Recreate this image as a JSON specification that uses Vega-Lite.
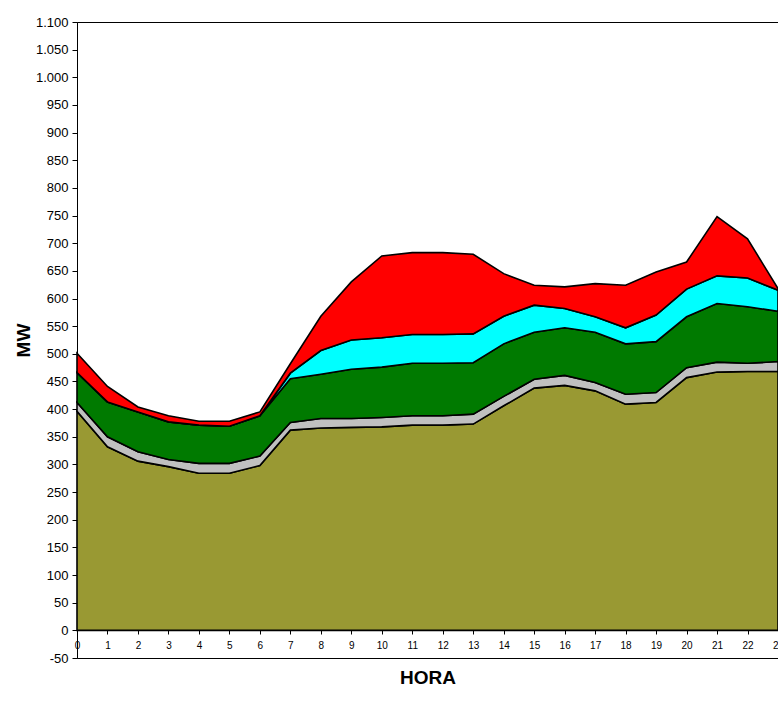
{
  "$schema": "https://vega.github.io/schema/vega-lite/v6.json",
  "width": 701,
  "height": 636,
  "autosize": "none",
  "padding": {"left": 77, "top": 22, "right": 0, "bottom": 43},
  "background": "white",
  "config": {
    "font": "Liberation Sans",
    "view": {"stroke": "black", "strokeWidth": 1}
  },
  "data": {
    "values": [
      {"hora":0,"serie":"A","ord":1,"mw":396},{"hora":0,"serie":"B","ord":2,"mw":16},{"hora":0,"serie":"C","ord":3,"mw":54},{"hora":0,"serie":"D","ord":4,"mw":0},{"hora":0,"serie":"E","ord":5,"mw":35},
      {"hora":1,"serie":"A","ord":1,"mw":332},{"hora":1,"serie":"B","ord":2,"mw":18},{"hora":1,"serie":"C","ord":3,"mw":63},{"hora":1,"serie":"D","ord":4,"mw":0},{"hora":1,"serie":"E","ord":5,"mw":28},
      {"hora":2,"serie":"A","ord":1,"mw":306},{"hora":2,"serie":"B","ord":2,"mw":17},{"hora":2,"serie":"C","ord":3,"mw":72},{"hora":2,"serie":"D","ord":4,"mw":0},{"hora":2,"serie":"E","ord":5,"mw":9},
      {"hora":3,"serie":"A","ord":1,"mw":296},{"hora":3,"serie":"B","ord":2,"mw":13},{"hora":3,"serie":"C","ord":3,"mw":68},{"hora":3,"serie":"D","ord":4,"mw":0},{"hora":3,"serie":"E","ord":5,"mw":11},
      {"hora":4,"serie":"A","ord":1,"mw":284},{"hora":4,"serie":"B","ord":2,"mw":18},{"hora":4,"serie":"C","ord":3,"mw":69},{"hora":4,"serie":"D","ord":4,"mw":0},{"hora":4,"serie":"E","ord":5,"mw":7},
      {"hora":5,"serie":"A","ord":1,"mw":284},{"hora":5,"serie":"B","ord":2,"mw":18},{"hora":5,"serie":"C","ord":3,"mw":67},{"hora":5,"serie":"D","ord":4,"mw":0},{"hora":5,"serie":"E","ord":5,"mw":9},
      {"hora":6,"serie":"A","ord":1,"mw":298},{"hora":6,"serie":"B","ord":2,"mw":17},{"hora":6,"serie":"C","ord":3,"mw":73},{"hora":6,"serie":"D","ord":4,"mw":0},{"hora":6,"serie":"E","ord":5,"mw":7},
      {"hora":7,"serie":"A","ord":1,"mw":362},{"hora":7,"serie":"B","ord":2,"mw":14},{"hora":7,"serie":"C","ord":3,"mw":79},{"hora":7,"serie":"D","ord":4,"mw":10},{"hora":7,"serie":"E","ord":5,"mw":17},
      {"hora":8,"serie":"A","ord":1,"mw":366},{"hora":8,"serie":"B","ord":2,"mw":17},{"hora":8,"serie":"C","ord":3,"mw":80},{"hora":8,"serie":"D","ord":4,"mw":43},{"hora":8,"serie":"E","ord":5,"mw":62},
      {"hora":9,"serie":"A","ord":1,"mw":367},{"hora":9,"serie":"B","ord":2,"mw":16},{"hora":9,"serie":"C","ord":3,"mw":89},{"hora":9,"serie":"D","ord":4,"mw":53},{"hora":9,"serie":"E","ord":5,"mw":105},
      {"hora":10,"serie":"A","ord":1,"mw":368},{"hora":10,"serie":"B","ord":2,"mw":17},{"hora":10,"serie":"C","ord":3,"mw":91},{"hora":10,"serie":"D","ord":4,"mw":53},{"hora":10,"serie":"E","ord":5,"mw":148},
      {"hora":11,"serie":"A","ord":1,"mw":371},{"hora":11,"serie":"B","ord":2,"mw":17},{"hora":11,"serie":"C","ord":3,"mw":95},{"hora":11,"serie":"D","ord":4,"mw":52},{"hora":11,"serie":"E","ord":5,"mw":148},
      {"hora":12,"serie":"A","ord":1,"mw":371},{"hora":12,"serie":"B","ord":2,"mw":17},{"hora":12,"serie":"C","ord":3,"mw":95},{"hora":12,"serie":"D","ord":4,"mw":52},{"hora":12,"serie":"E","ord":5,"mw":148},
      {"hora":13,"serie":"A","ord":1,"mw":373},{"hora":13,"serie":"B","ord":2,"mw":18},{"hora":13,"serie":"C","ord":3,"mw":93},{"hora":13,"serie":"D","ord":4,"mw":52},{"hora":13,"serie":"E","ord":5,"mw":144},
      {"hora":14,"serie":"A","ord":1,"mw":406},{"hora":14,"serie":"B","ord":2,"mw":17},{"hora":14,"serie":"C","ord":3,"mw":95},{"hora":14,"serie":"D","ord":4,"mw":50},{"hora":14,"serie":"E","ord":5,"mw":77},
      {"hora":15,"serie":"A","ord":1,"mw":438},{"hora":15,"serie":"B","ord":2,"mw":16},{"hora":15,"serie":"C","ord":3,"mw":85},{"hora":15,"serie":"D","ord":4,"mw":49},{"hora":15,"serie":"E","ord":5,"mw":36},
      {"hora":16,"serie":"A","ord":1,"mw":443},{"hora":16,"serie":"B","ord":2,"mw":18},{"hora":16,"serie":"C","ord":3,"mw":86},{"hora":16,"serie":"D","ord":4,"mw":35},{"hora":16,"serie":"E","ord":5,"mw":39},
      {"hora":17,"serie":"A","ord":1,"mw":433},{"hora":17,"serie":"B","ord":2,"mw":15},{"hora":17,"serie":"C","ord":3,"mw":91},{"hora":17,"serie":"D","ord":4,"mw":28},{"hora":17,"serie":"E","ord":5,"mw":60},
      {"hora":18,"serie":"A","ord":1,"mw":409},{"hora":18,"serie":"B","ord":2,"mw":18},{"hora":18,"serie":"C","ord":3,"mw":91},{"hora":18,"serie":"D","ord":4,"mw":29},{"hora":18,"serie":"E","ord":5,"mw":77},
      {"hora":19,"serie":"A","ord":1,"mw":412},{"hora":19,"serie":"B","ord":2,"mw":18},{"hora":19,"serie":"C","ord":3,"mw":92},{"hora":19,"serie":"D","ord":4,"mw":48},{"hora":19,"serie":"E","ord":5,"mw":78},
      {"hora":20,"serie":"A","ord":1,"mw":457},{"hora":20,"serie":"B","ord":2,"mw":18},{"hora":20,"serie":"C","ord":3,"mw":92},{"hora":20,"serie":"D","ord":4,"mw":50},{"hora":20,"serie":"E","ord":5,"mw":49},
      {"hora":21,"serie":"A","ord":1,"mw":467},{"hora":21,"serie":"B","ord":2,"mw":18},{"hora":21,"serie":"C","ord":3,"mw":106},{"hora":21,"serie":"D","ord":4,"mw":50},{"hora":21,"serie":"E","ord":5,"mw":107},
      {"hora":22,"serie":"A","ord":1,"mw":468},{"hora":22,"serie":"B","ord":2,"mw":15},{"hora":22,"serie":"C","ord":3,"mw":102},{"hora":22,"serie":"D","ord":4,"mw":52},{"hora":22,"serie":"E","ord":5,"mw":71},
      {"hora":23,"serie":"A","ord":1,"mw":468},{"hora":23,"serie":"B","ord":2,"mw":18},{"hora":23,"serie":"C","ord":3,"mw":91},{"hora":23,"serie":"D","ord":4,"mw":38},{"hora":23,"serie":"E","ord":5,"mw":3}
    ]
  },
  "mark": {"type": "area", "stroke": "black", "strokeWidth": 1.6, "opacity": 1},
  "encoding": {
    "x": {
      "field": "hora", "type": "quantitative",
      "scale": {"domain": [0, 23], "nice": false, "zero": false},
      "axis": {
        "title": "HORA", "titleFontSize": 19, "titleFontWeight": "bold", "titleColor": "black",
        "titlePadding": 18,
        "values": [0,1,2,3,4,5,6,7,8,9,10,11,12,13,14,15,16,17,18,19,20,21,22,23],
        "offset": -28, "grid": false, "domainColor": "black", "domainWidth": 1,
        "tickColor": "black", "tickSize": 4, "labelFontSize": 10, "labelColor": "black",
        "labelPadding": 6, "labelFlush": false, "labelOverlap": false
      }
    },
    "y": {
      "field": "mw", "type": "quantitative", "stack": "zero",
      "scale": {"domain": [-50, 1100], "nice": false},
      "axis": {
        "title": "MW", "titleFontSize": 19, "titleFontWeight": "bold", "titleColor": "black",
        "titlePadding": 2,
        "values": [-50,0,50,100,150,200,250,300,350,400,450,500,550,600,650,700,750,800,850,900,950,1000,1050,1100],
        "labelExpr": "replace(replace(format(datum.value, ',d'), ',', '.'), '\u2212', '-')",
        "grid": false, "domainColor": "black", "domainWidth": 1,
        "tickColor": "black", "tickSize": 5, "labelFontSize": 13, "labelColor": "black",
        "labelPadding": 4, "labelFlush": false, "labelOverlap": false
      }
    },
    "color": {
      "field": "serie", "type": "nominal",
      "scale": {"domain": ["A","B","C","D","E"], "range": ["#999933", "#C0C0C0", "#007A00", "#00FFFF", "#FF0000"]},
      "legend": null
    },
    "order": {"field": "ord", "type": "quantitative"}
  }
}
